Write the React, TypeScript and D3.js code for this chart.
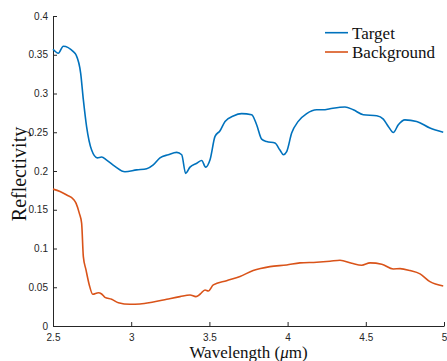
import React, { useEffect, useRef } from "react";
import * as d3 from "d3";

// Target spectrum (wavelength in µm, reflectivity)
const targetWl = [2.5, 2.534, 2.566, 2.63, 2.647, 2.677, 2.694, 2.715, 2.747, 2.783, 2.811, 2.843, 2.896, 2.96, 3.035, 3.099, 3.141, 3.184, 3.237, 3.291, 3.323, 3.348, 3.376, 3.419, 3.451, 3.476, 3.504, 3.536, 3.568, 3.6, 3.653, 3.706, 3.77, 3.802, 3.834, 3.866, 3.919, 3.951, 3.973, 3.994, 4.026, 4.068, 4.122, 4.186, 4.228, 4.271, 4.367, 4.42, 4.484, 4.57, 4.612, 4.644, 4.676, 4.708, 4.75, 4.825, 4.91, 4.995];
const targetVal = [0.357, 0.352, 0.361, 0.354, 0.35, 0.326, 0.292, 0.257, 0.227, 0.217, 0.218, 0.214, 0.206, 0.199, 0.2015, 0.203, 0.208, 0.217, 0.221, 0.224, 0.221, 0.197, 0.205, 0.21, 0.2135, 0.205, 0.2145, 0.2446, 0.252, 0.264, 0.271, 0.274, 0.2726, 0.2597, 0.2412, 0.238, 0.236, 0.227, 0.221, 0.225, 0.249, 0.264, 0.274, 0.279, 0.279, 0.2804, 0.2826, 0.279, 0.2726, 0.2713, 0.267, 0.2575, 0.2497, 0.2597, 0.266, 0.264, 0.2554, 0.25];

// Background spectrum
const backgroundWl = [2.5, 2.545, 2.588, 2.63, 2.647, 2.668, 2.683, 2.694, 2.711, 2.732, 2.754, 2.79, 2.811, 2.832, 2.875, 2.918, 2.992, 3.056, 3.141, 3.227, 3.312, 3.376, 3.414, 3.44, 3.472, 3.493, 3.525, 3.61, 3.696, 3.78, 3.887, 3.994, 4.079, 4.186, 4.271, 4.335, 4.41, 4.474, 4.527, 4.602, 4.676, 4.719, 4.783, 4.847, 4.91, 4.995];
const backgroundVal = [0.1766, 0.1735, 0.169, 0.1637, 0.1585, 0.1456, 0.1327, 0.0895, 0.0724, 0.053, 0.041, 0.043, 0.0413, 0.037, 0.0345, 0.03, 0.028, 0.0284, 0.031, 0.0345, 0.0379, 0.04, 0.0379, 0.041, 0.0465, 0.0452, 0.053, 0.0585, 0.064, 0.0715, 0.0766, 0.0788, 0.0814, 0.0823, 0.0836, 0.0849, 0.081, 0.0784, 0.0814, 0.0797, 0.0736, 0.074, 0.0715, 0.0672, 0.0572, 0.0517];

const xTicks = [2.5, 3, 3.5, 4, 4.5, 5];
const yTicks = [0, 0.05, 0.1, 0.15, 0.2, 0.25, 0.3, 0.35, 0.4];
const seriesNames = ["Target", "Background"];
const seriesColors = ["#0072BD", "#D95319"];

export default function App() {
  const ref = useRef<SVGSVGElement>(null);

  useEffect(() => {
    const width = 447, height = 361;
    const margin = { left: 53, right: 3, top: 16, bottom: 35 };
    const svg = d3.select(ref.current);
    svg.selectAll("*").remove();

    const x = d3.scaleLinear().domain([2.5, 5]).range([margin.left, width - margin.right]);
    const y = d3.scaleLinear().domain([0, 0.4]).range([height - margin.bottom, margin.top]);

    const axisColor = "#262626";
    const tickFont = "'Liberation Sans', Arial, sans-serif";
    const labelFont = "'Liberation Serif', 'Times New Roman', serif";

    // x axis, ticks inward
    const gx = svg.append("g")
      .attr("transform", `translate(0,${y(0)})`)
      .call(d3.axisBottom(x).tickValues(xTicks).tickSizeInner(-4).tickSizeOuter(0).tickPadding(8).tickFormat(d3.format("")));
    gx.select(".domain").attr("stroke", axisColor);
    gx.selectAll(".tick line").attr("stroke", axisColor);
    gx.selectAll(".tick text").attr("fill", axisColor).style("font-family", tickFont).style("font-size", "10px");

    // y axis, ticks inward
    const gy = svg.append("g")
      .attr("transform", `translate(${x(2.5)},0)`)
      .call(d3.axisLeft(y).tickValues(yTicks).tickSizeInner(-4).tickSizeOuter(0).tickPadding(5).tickFormat(d3.format("")));
    gy.select(".domain").attr("stroke", axisColor);
    gy.selectAll(".tick line").attr("stroke", axisColor);
    gy.selectAll(".tick text").attr("fill", axisColor).style("font-family", tickFont).style("font-size", "10px");

    const line = d3.line<[number, number]>()
      .x(d => x(d[0]))
      .y(d => y(d[1]))
      .curve(d3.curveMonotoneX);

    const series: [number, number][][] = [
      targetWl.map((w, i) => [w, targetVal[i]]),
      backgroundWl.map((w, i) => [w, backgroundVal[i]]),
    ];

    series.forEach((s, i) => {
      svg.append("path")
        .datum(s)
        .attr("d", line)
        .attr("fill", "none")
        .attr("stroke", seriesColors[i])
        .attr("stroke-width", 1.6)
        .attr("stroke-linejoin", "round");
    });

    // legend
    const legend = svg.append("g");
    seriesNames.forEach((name, i) => {
      const ly = 32.7 + i * 19.3;
      legend.append("line")
        .attr("x1", 325).attr("x2", 348)
        .attr("y1", ly).attr("y2", ly)
        .attr("stroke", seriesColors[i])
        .attr("stroke-width", 1.6);
      legend.append("text")
        .attr("x", 352).attr("y", ly + 6)
        .style("font-family", labelFont)
        .style("font-size", "17px")
        .attr("fill", "#111")
        .text(name);
    });

    // axis labels
    const xl = svg.append("text")
      .attr("x", (x(2.5) + x(5)) / 2)
      .attr("y", 358)
      .attr("text-anchor", "middle")
      .style("font-family", labelFont)
      .style("font-size", "17px")
      .attr("fill", "#111");
    xl.append("tspan").text("Wavelength (");
    xl.append("tspan").style("font-style", "italic").text("\u03bc");
    xl.append("tspan").text("m)");

    svg.append("text")
      .attr("transform", `translate(26,174) rotate(-90)`)
      .attr("text-anchor", "middle")
      .style("font-family", labelFont)
      .style("font-size", "20px")
      .attr("fill", "#111")
      .text("Reflectivity");
  }, []);

  return (
    <div style={{ position: "absolute", left: 0, top: 0 }}>
      <svg ref={ref} width={447} height={361} style={{ display: "block", background: "#fff" }} />
    </div>
  );
}
